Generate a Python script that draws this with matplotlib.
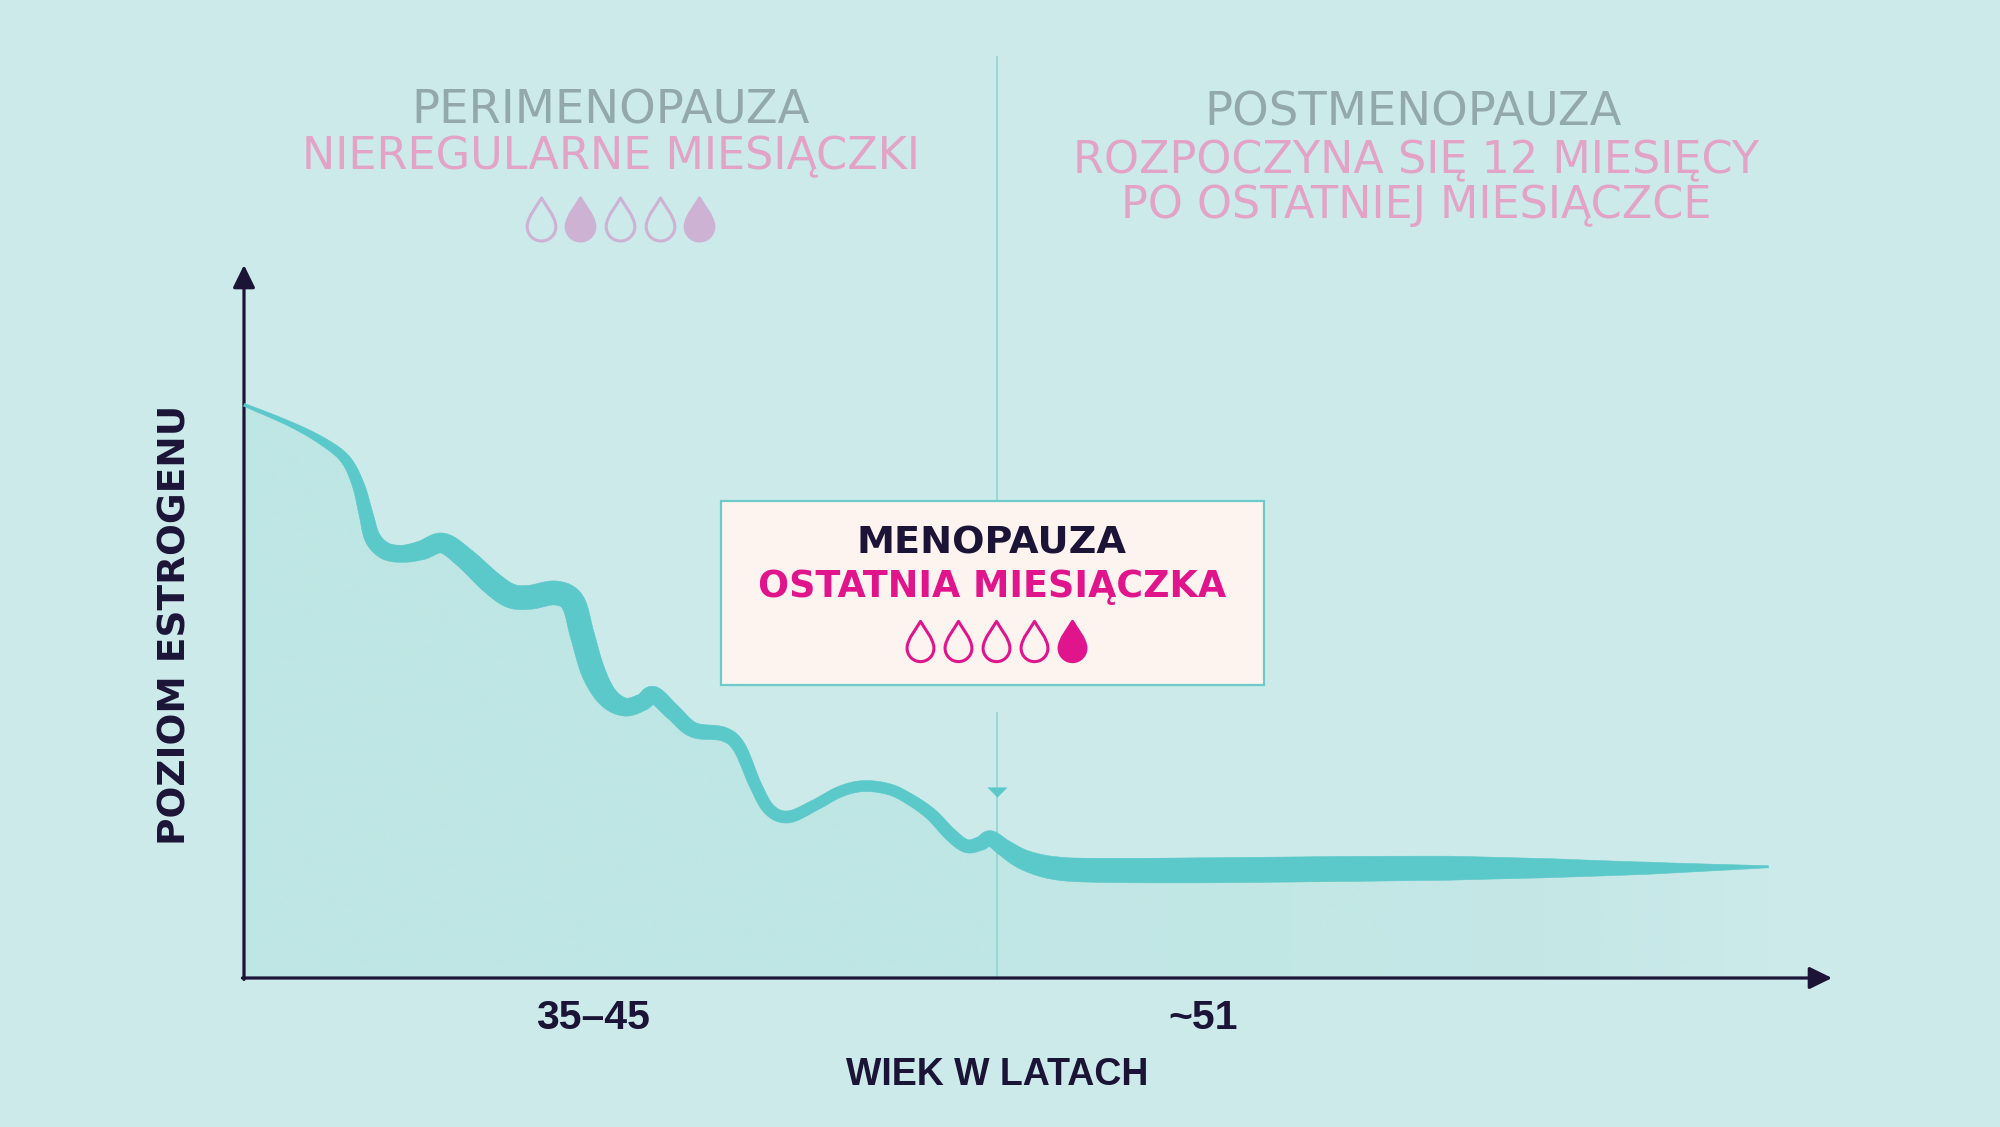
import numpy as np
import matplotlib
matplotlib.use("Agg")
import matplotlib.pyplot as plt
from matplotlib.path import Path
from matplotlib.patches import Polygon, Rectangle
from matplotlib import transforms
from matplotlib.colors import to_rgb

# ---------------- data ----------------
# relative time axis (0-100) and relative estrogen level (0-100)
time_pos = [0.0, 2.9, 5.0, 6.4, 7.2, 7.7, 8.1, 8.9, 10.0, 11.2, 12.5, 13.9, 15.6,
            16.8, 18.0, 19.6, 20.7, 21.3, 22.0, 22.9, 24.0, 25.1, 25.8, 27.0,
            28.3, 30.2, 31.2, 32.2, 33.1, 34.3, 36.0, 37.5, 38.9, 40.4, 41.6,
            43.2, 44.5, 45.5, 46.4, 47.0, 47.9, 49.2, 51.1, 53.9, 60.2, 69.7,
            75.9, 82.2, 88.5, 96.0]
estrogen = [80.4, 77.7, 75.2, 72.7, 69.1, 64.9, 61.7, 59.9, 59.5, 60.0, 61.0, 58.9,
            55.4, 53.6, 53.4, 54.0, 52.7, 48.1, 42.9, 39.4, 38.0, 38.7, 39.7, 37.3,
            34.8, 34.2, 32.3, 27.1, 23.6, 22.6, 24.3, 26.1, 26.9, 26.6, 25.5,
            23.1, 20.1, 18.5, 18.9, 19.6, 18.2, 16.5, 15.4, 15.1, 15.1, 15.3,
            15.4, 15.4, 15.4, 15.6]
menopause_x = 47.4

tick_labels = ["35–45", "~51"]
tick_pos = [22.0, 60.4]
x_label = "WIEK W LATACH"
y_label = "POZIOM ESTROGENU"

peri_title = "PERIMENOPAUZA"
peri_sub = ["NIEREGULARNE MIESIĄCZKI"]
post_title = "POSTMENOPAUZA"
post_sub = ["ROZPOCZYNA SIĘ 12 MIESIĘCY", "PO OSTATNIEJ MIESIĄCZCE"]
meno_title = "MENOPAUZA"
meno_sub = "OSTATNIA MIESIĄCZKA"
peri_drop_filled = [0, 1, 0, 0, 1]
meno_drop_filled = [0, 0, 0, 0, 1]

# ---------------- styles ----------------
stroke_px = [3, 5, 8, 10, 12, 14, 16, 17, 17, 19, 20, 21, 23, 24, 24, 24, 24, 24,
             24, 21, 18, 17, 17, 16, 15, 14, 13, 12, 12, 12, 11, 11, 11, 11, 11,
             12, 13, 13, 14, 15, 17, 20, 23, 24, 25, 25, 24, 19, 12, 2]
BG = "#cceaea"
FILL = "#bee6e4"
TEAL = "#5bc8c9"
DIVIDER = "#93d5d5"
NAVY = "#1b1436"
GRAY = "#93a8ab"
PINK = "#e2a3c6"
DROP_LIGHT = "#cdb2d4"
MAGENTA = "#e0158b"
BOX_FACE = "#fdf4f0"
BOX_EDGE = "#6ccac8"

W, H = 2000, 1127
fig = plt.figure(figsize=(W / 100, H / 100), dpi=100, facecolor=BG)
ax = fig.add_axes([244 / W, 149 / H, 1588 / W, 713 / H])
ax.set_facecolor("none")
for s in ax.spines.values():
    s.set_visible(False)
ax.set_xticks([])
ax.set_yticks([])

# overlay axes in pixel coordinates (y down) for annotations
ov = fig.add_axes([0, 0, 1, 1], zorder=5)
ov.set_xlim(0, W)
ov.set_ylim(H, 0)
ov.axis("off")
ov.patch.set_visible(False)


def catmull_rom(P, n=16):
    P = np.asarray(P, float)
    ext = np.vstack([2 * P[0] - P[1], P, 2 * P[-1] - P[-2]])
    t = np.linspace(0, 1, n, endpoint=False)[:, None]
    out = []
    for i in range(1, len(ext) - 2):
        p0, p1, p2, p3 = ext[i - 1], ext[i], ext[i + 1], ext[i + 2]
        seg = 0.5 * (2 * p1 + (-p0 + p2) * t + (2 * p0 - 5 * p1 + 4 * p2 - p3) * t ** 2
                     + (-p0 + 3 * p1 - 3 * p2 + p3) * t ** 3)
        out.append(seg)
    out.append(P[-1:])
    return np.vstack(out)


# gradient fill under the curve
gx = np.linspace(0, 100, 800)
galpha = np.interp(gx, [0, menopause_x, menopause_x + 0.05, 70, 85, 96, 100],
                   [1.0, 1.0, 0.8, 0.7, 0.45, 0.05, 0.0])
rgba = np.zeros((1, len(gx), 4))
rgba[..., :3] = to_rgb(FILL)
rgba[..., 3] = galpha
im = ax.imshow(rgba, extent=[0, 100, 0, 100], aspect="auto", zorder=1,
               interpolation="bilinear", origin="lower")
ax.set_xlim(0, 100)
ax.set_ylim(0, 100)

P = ax.transData.transform(np.column_stack([time_pos, estrogen]))
n = 16
D = catmull_rom(P, n)
s_par = np.arange(len(D)) / n
wd = np.interp(s_par, np.arange(len(P)), stroke_px)
Dd = ax.transData.inverted().transform(D)

fill_verts = np.vstack([Dd, [[Dd[-1, 0], 0], [Dd[0, 0], 0]]])
clip_patch = Polygon(fill_verts, closed=True, fc="none", ec="none")
ax.add_patch(clip_patch)
im.set_clip_path(clip_patch)

# divider line and arrow
blend = transforms.blended_transform_factory(ax.transData, ov.transData)
ax.plot([menopause_x, menopause_x], [57, 505], transform=blend, color=DIVIDER,
        lw=1.2, clip_on=False, zorder=2)
ax.plot([menopause_x, menopause_x], [713, 978], transform=blend, color=DIVIDER,
        lw=1.2, clip_on=False, zorder=2)
tri = Path([(-1, 0.5), (1, 0.5), (0, -0.5), (-1, 0.5)],
           [Path.MOVETO, Path.LINETO, Path.LINETO, Path.CLOSEPOLY])
ax.plot([menopause_x], [792.0], transform=blend, marker=tri, ms=14.5, color=TEAL,
        mec="none", ls="none", clip_on=False, zorder=3)

# variable-width curve
T = np.gradient(D, axis=0)
T /= np.linalg.norm(T, axis=1)[:, None]
N = np.column_stack([-T[:, 1], T[:, 0]])
up = D + N * wd[:, None] / 2
lo = D - N * wd[:, None] / 2
poly = ax.transData.inverted().transform(np.vstack([up, lo[::-1]]))
ax.add_patch(Polygon(poly, closed=True, fc=TEAL, ec=TEAL, lw=0.4, zorder=4,
                     clip_on=False, joinstyle="round"))

# axes arrows
arrow_kw = dict(arrowstyle="-|>,head_length=0.55,head_width=0.27", color=NAVY,
                lw=2.3, mutation_scale=25, shrinkA=0, shrinkB=0)
ax.annotate("", xy=(1, 0), xytext=(-0.001, 0), xycoords="axes fraction",
            arrowprops=arrow_kw, annotation_clip=False)
ax.annotate("", xy=(0, 1), xytext=(0, -0.002), xycoords="axes fraction",
            arrowprops=arrow_kw, annotation_clip=False)

# tick labels and axis labels
tick_tf = transforms.blended_transform_factory(ax.transData, ov.transData)
for lab, xp in zip(tick_labels, tick_pos):
    ax.text(xp, 1029, lab, transform=tick_tf, ha="center", va="baseline",
            fontsize=29.5, fontweight="bold", family="Liberation Sans", color=NAVY,
            clip_on=False)
ax.text(menopause_x, 1085, x_label, transform=tick_tf, ha="center", va="baseline",
        fontsize=27, fontweight="bold", family="Liberation Sans", color=NAVY,
        clip_on=False)
ov.text(176, 625, y_label, rotation=90, ha="center", va="center", fontsize=27,
        fontweight="bold", family="DejaVu Sans", color=NAVY)

# top titles
ov.text(611, 123, peri_title, ha="center", va="baseline", fontsize=33.5, color=GRAY,
        family="DejaVu Sans")
for i, line in enumerate(peri_sub):
    ov.text(611, 169 + 46 * i, line, ha="center", va="baseline", fontsize=32,
            color=PINK, family="DejaVu Sans")
ov.text(1413, 126, post_title, ha="center", va="baseline", fontsize=33.5, color=GRAY,
        family="DejaVu Sans")
for i, line in enumerate(post_sub):
    ov.text(1416, 173 + 45 * i, line, ha="center", va="baseline", fontsize=32,
            color=PINK, family="DejaVu Sans")

# drop marker
drop = Path([(0, 0.75), (0.1, 0.55), (0.5, 0.1), (0.5, -0.25),
             (0.5, -0.526), (0.276, -0.75), (0, -0.75),
             (-0.276, -0.75), (-0.5, -0.526), (-0.5, -0.25),
             (-0.5, 0.1), (-0.1, 0.55), (0, 0.75), (0, 0.75)],
            [Path.MOVETO, Path.CURVE4, Path.CURVE4, Path.CURVE4,
             Path.CURVE4, Path.CURVE4, Path.CURVE4,
             Path.CURVE4, Path.CURVE4, Path.CURVE4,
             Path.CURVE4, Path.CURVE4, Path.CURVE4, Path.CLOSEPOLY])


def draw_drops(cx, cy, spacing, filled, color, ms, mew):
    for i, f in enumerate(filled):
        x = cx + (i - (len(filled) - 1) / 2) * spacing
        ov.plot([x], [cy], marker=drop, ms=ms, ls="none", mec=color, mew=mew,
                mfc=color if f else "none", zorder=7)


draw_drops(620, 219, 39.7, peri_drop_filled, DROP_LIGHT, 31, 2.2)

# menopause box
ov.add_patch(Rectangle((721, 501), 543, 184, fc=BOX_FACE, ec=BOX_EDGE, lw=1.6,
                       zorder=6))
ov.text(992, 553, meno_title, ha="center", va="baseline", fontsize=27.5,
        fontweight="bold", color=NAVY, family="DejaVu Sans", zorder=7)
ov.text(992, 597, meno_sub, ha="center", va="baseline", fontsize=26.3,
        fontweight="bold", color=MAGENTA, family="DejaVu Sans", zorder=7)
draw_drops(996, 641, 38, meno_drop_filled, MAGENTA, 29, 2.2)

fig.savefig("out.png", dpi=100, facecolor=BG)
